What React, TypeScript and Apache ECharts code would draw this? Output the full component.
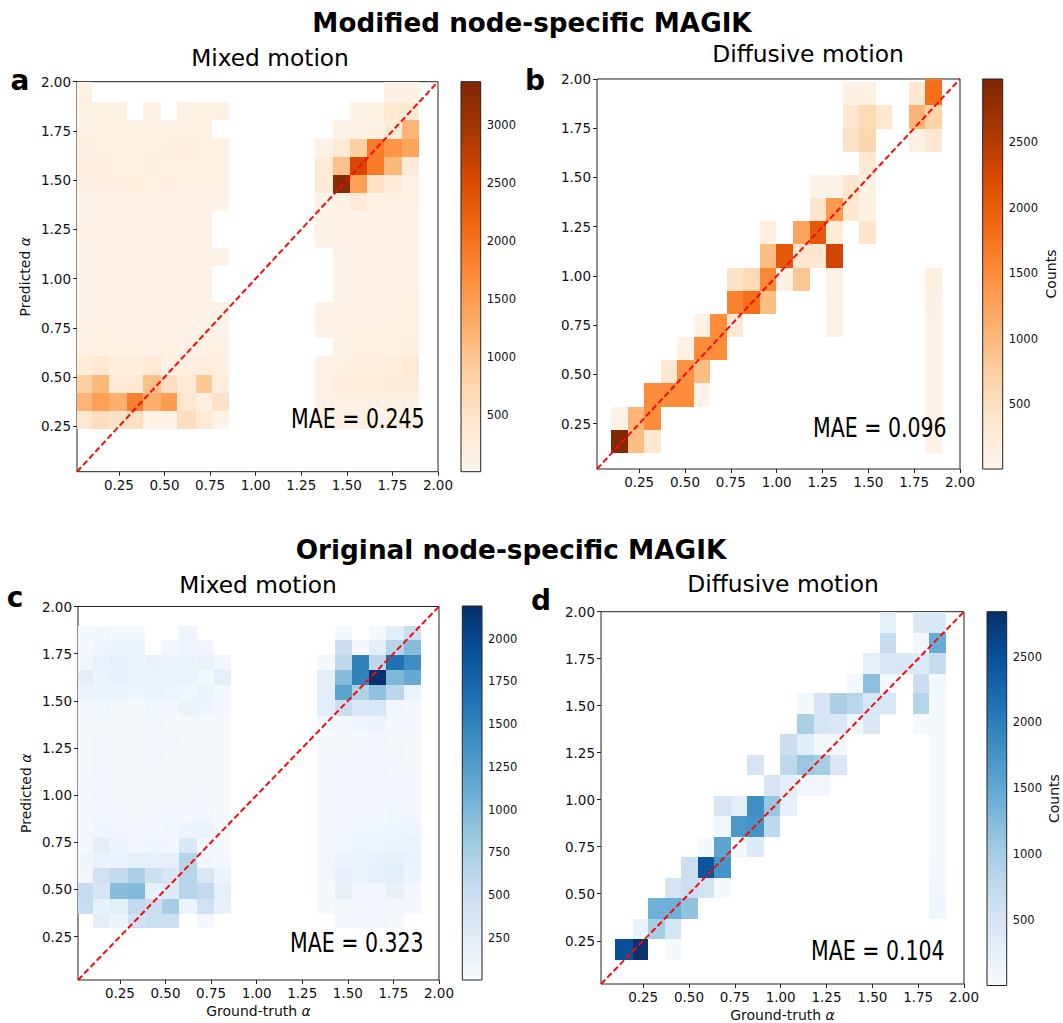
import React, { useEffect, useRef } from "react";
import * as echarts from "echarts";

const FONT = "DejaVu Sans";
const tickValues = [0.25, 0.5, 0.75, 1.0, 1.25, 1.5, 1.75, 2.0];

const oranges = ["#fff5eb", "#fee6ce", "#fdd0a2", "#fdae6b", "#fd8d3c", "#f16913", "#d94801", "#a63603", "#7f2704"];
const blues = ["#f7fbff", "#deebf7", "#c6dbef", "#9ecae1", "#6baed6", "#4292c6", "#2171b5", "#08519c", "#08306b"];

// ---- panel a: Mixed motion (modified) ----
const aXLeft = [0.02, 0.101, 0.194, 0.292, 0.384, 0.478, 0.571, 0.67, 0.762, 0.855];
const aXRight = [1.326, 1.424, 1.517, 1.61, 1.705, 1.801, 1.894];
const aY = [2.0, 1.895, 1.806, 1.709, 1.618, 1.526, 1.435, 1.344, 1.247, 1.156, 1.065, 0.973, 0.882, 0.791, 0.699, 0.608, 0.512, 0.42, 0.329, 0.238];
const aLeft = [
  [130, 0, 0, 0, 0, 0, 0, 0, 0],
  [110, 130, 130, 0, 130, 0, 100, 100, 100],
  [130, 90, 90, 110, 130, 110, 130, 100, 0],
  [170, 100, 110, 130, 90, 140, 170, 110, 110],
  [150, 170, 110, 130, 150, 130, 100, 100, 100],
  [150, 170, 170, 190, 90, 150, 100, 100, 100],
  [70, 70, 70, 70, 70, 70, 70, 70, 70],
  [60, 60, 60, 60, 60, 60, 60, 60, 0],
  [60, 60, 60, 60, 60, 60, 60, 60, 0],
  [60, 60, 60, 60, 60, 60, 60, 60, 60],
  [60, 60, 60, 60, 60, 60, 60, 60, 0],
  [70, 60, 60, 60, 60, 60, 60, 60, 0],
  [70, 70, 70, 70, 70, 70, 80, 80, 70],
  [90, 100, 80, 80, 80, 80, 80, 80, 80],
  [110, 110, 100, 100, 100, 110, 110, 120, 130],
  [250, 370, 200, 200, 330, 130, 170, 200, 140],
  [850, 1150, 300, 350, 1050, 550, 330, 950, 200],
  [1200, 1450, 1250, 1850, 1250, 1500, 400, 170, 500],
  [400, 600, 500, 550, 70, 60, 580, 350, 70],
];
const aRight = [
  [0, 0, 0, 0, 100, 100],
  [0, 0, 100, 100, 350, 350],
  [0, 100, 100, 130, 300, 1200],
  [130, 330, 850, 1900, 1600, 1400],
  [300, 1050, 2550, 1900, 1150, 300],
  [300, 3300, 1450, 500, 300, 100],
  [80, 90, 300, 100, 90, 90],
  [70, 80, 80, 80, 80, 80],
  [70, 80, 80, 80, 80, 80],
  [0, 70, 70, 70, 80, 80],
  [0, 70, 70, 70, 80, 80],
  [0, 70, 70, 80, 90, 90],
  [70, 80, 80, 80, 90, 100],
  [70, 90, 90, 90, 100, 110],
  [0, 90, 100, 110, 130, 140],
  [120, 130, 140, 170, 200, 350],
  [100, 200, 200, 200, 260, 260],
  [100, 130, 130, 130, 130, 130],
  [70, 90, 90, 100, 90, 90],
];

// ---- panel c: Mixed motion (original) ----
const cXLeft = [0.02, 0.1, 0.195, 0.292, 0.387, 0.482, 0.573, 0.67, 0.765, 0.858];
const cXRight = [1.33, 1.428, 1.521, 1.615, 1.71, 1.806, 1.9];
const cY = [1.899, 1.825, 1.741, 1.661, 1.582, 1.503, 1.418, 1.339, 1.259, 1.18, 1.101, 1.021, 0.942, 0.857, 0.772, 0.693, 0.614, 0.534, 0.45, 0.37, 0.296];
const cLeft = [
  [60, 70, 40, 40, 0, 0, 100, 0, 0],
  [60, 90, 110, 110, 0, 60, 100, 70, 0],
  [80, 160, 200, 120, 150, 110, 130, 160, 70],
  [230, 130, 170, 110, 140, 130, 140, 60, 210],
  [130, 110, 130, 100, 130, 100, 70, 120, 60],
  [70, 80, 40, 40, 80, 50, 130, 100, 50],
  [40, 40, 40, 40, 60, 40, 40, 40, 40],
  [40, 50, 40, 40, 60, 50, 40, 40, 30],
  [30, 50, 40, 40, 60, 40, 40, 40, 30],
  [30, 60, 40, 40, 30, 30, 30, 30, 30],
  [50, 60, 40, 40, 30, 30, 30, 30, 30],
  [40, 60, 30, 30, 30, 30, 50, 50, 30],
  [50, 70, 70, 30, 50, 50, 60, 80, 40],
  [60, 90, 70, 70, 50, 80, 110, 130, 40],
  [40, 220, 110, 50, 100, 70, 320, 50, 40],
  [90, 150, 150, 190, 190, 210, 650, 80, 60],
  [70, 450, 580, 720, 470, 340, 650, 340, 120],
  [550, 380, 950, 980, 170, 280, 650, 580, 210],
  [520, 180, 220, 580, 500, 770, 130, 450, 170],
  [0, 220, 120, 450, 470, 470, 0, 60, 0],
];
const cRight = [
  [0, 40, 0, 30, 250, 500],
  [0, 500, 30, 230, 650, 950],
  [40, 600, 1500, 620, 1650, 1400],
  [230, 950, 1500, 2190, 1000, 1150],
  [220, 1200, 700, 900, 620, 130],
  [240, 500, 350, 350, 70, 60],
  [50, 60, 100, 130, 50, 50],
  [40, 40, 50, 50, 40, 40],
  [50, 50, 60, 50, 50, 40],
  [50, 50, 60, 50, 40, 40],
  [50, 50, 60, 60, 50, 50],
  [50, 50, 60, 60, 60, 50],
  [50, 60, 60, 60, 80, 70],
  [50, 70, 80, 80, 90, 100],
  [60, 80, 100, 100, 130, 130],
  [70, 130, 130, 170, 210, 150],
  [70, 170, 130, 210, 230, 130],
  [30, 170, 70, 70, 170, 60],
  [40, 70, 70, 50, 60, 50],
  [0, 50, 50, 50, 40, 0],
];

// ---- panel b: Diffusive motion (modified): [column, row, count] ----
const bX = [0.02, 0.096, 0.189, 0.276, 0.369, 0.458, 0.549, 0.636, 0.729, 0.816, 0.909, 0.996, 1.089, 1.182, 1.271, 1.362, 1.449, 1.54, 1.629, 1.722, 1.809, 1.902, 1.991];
const bY = [2.0, 1.983, 1.867, 1.747, 1.63, 1.512, 1.395, 1.279, 1.162, 1.041, 0.924, 0.807, 0.691, 0.574, 0.458, 0.336, 0.22, 0.103];
const bCells = [
  [20, 0, 1750],
  [15, 1, 90], [16, 1, 90], [19, 1, 330], [20, 1, 1800],
  [15, 2, 350], [16, 2, 600], [17, 2, 350], [19, 2, 1050], [20, 2, 700],
  [15, 3, 450], [16, 3, 650], [19, 3, 100], [20, 3, 350],
  [16, 4, 300],
  [13, 5, 70], [14, 5, 70], [15, 5, 400], [16, 5, 100],
  [13, 6, 400], [14, 6, 1350], [15, 6, 330], [16, 6, 90],
  [10, 7, 120], [12, 7, 1250], [13, 7, 2050], [14, 7, 250], [16, 7, 400],
  [10, 8, 950], [11, 8, 2050], [12, 8, 350], [13, 8, 350], [14, 8, 2300],
  [8, 9, 430], [9, 9, 600], [10, 9, 1550], [11, 9, 90], [12, 9, 850], [14, 9, 100], [20, 9, 150],
  [8, 10, 1600], [9, 10, 1800], [10, 10, 950], [14, 10, 90], [20, 10, 90],
  [6, 11, 90], [7, 11, 1500], [8, 11, 300], [14, 11, 90], [20, 11, 70],
  [5, 12, 110], [6, 12, 1500], [7, 12, 1500], [20, 12, 70],
  [4, 13, 350], [5, 13, 1450], [6, 13, 950], [20, 13, 70],
  [3, 14, 1500], [4, 14, 1500], [5, 14, 1500], [6, 14, 70], [20, 14, 70],
  [1, 15, 70], [2, 15, 1050], [3, 15, 1500], [20, 15, 70],
  [1, 16, 2950], [2, 16, 950], [3, 16, 330], [20, 16, 70],
];

// ---- panel d: Diffusive motion (original): [column, row, count] ----
const dX = [0.02, 0.099, 0.192, 0.279, 0.371, 0.458, 0.551, 0.638, 0.73, 0.818, 0.91, 0.997, 1.09, 1.182, 1.269, 1.362, 1.449, 1.541, 1.628, 1.721, 1.808, 1.9, 1.989];
const dY = [2.0, 1.889, 1.783, 1.671, 1.565, 1.454, 1.348, 1.237, 1.131, 1.019, 0.913, 0.802, 0.696, 0.585, 0.479, 0.367, 0.261, 0.15];
const dCells = [
  [17, 0, 270], [19, 0, 400], [20, 0, 430],
  [17, 1, 700], [19, 1, 60], [20, 1, 1450],
  [16, 2, 270], [17, 2, 450], [18, 2, 450], [19, 2, 350], [20, 2, 700],
  [15, 3, 60], [16, 3, 1200], [17, 3, 40], [19, 3, 650], [20, 3, 60],
  [12, 4, 40], [13, 4, 480], [14, 4, 950], [15, 4, 820], [16, 4, 450], [17, 4, 450], [19, 4, 850], [20, 4, 40],
  [12, 5, 950], [13, 5, 480], [14, 5, 420], [15, 5, 100], [16, 5, 400], [19, 5, 40], [20, 5, 40],
  [11, 6, 650], [12, 6, 330], [13, 6, 50], [14, 6, 70], [20, 6, 40],
  [9, 7, 480], [11, 7, 780], [12, 7, 1100], [13, 7, 1000], [14, 7, 420], [20, 7, 40],
  [10, 8, 460], [11, 8, 280], [12, 8, 90], [13, 8, 90], [20, 8, 40],
  [7, 9, 480], [8, 9, 280], [9, 9, 1800], [10, 9, 1100], [11, 9, 240], [20, 9, 40],
  [7, 10, 100], [8, 10, 1700], [9, 10, 1750], [10, 10, 780], [20, 10, 40],
  [6, 11, 50], [7, 11, 1550], [8, 11, 60], [9, 11, 370], [20, 11, 50],
  [5, 12, 630], [6, 12, 2450], [7, 12, 1750], [20, 12, 60],
  [4, 13, 520], [5, 13, 620], [6, 13, 520], [7, 13, 40], [20, 13, 90],
  [3, 14, 1400], [4, 14, 1400], [5, 14, 1150], [20, 14, 110],
  [2, 15, 180], [3, 15, 1000], [4, 15, 480],
  [1, 16, 2500], [2, 16, 2830], [4, 16, 40],
];

const diagonal = [[0.02, 0.02], [2.0, 2.0]];

const maeLabels = ["MAE = 0.245", "MAE = 0.096", "MAE = 0.323", "MAE = 0.104"];
const barTicksA = [500, 1000, 1500, 2000, 2500, 3000];
const barTicksB = [500, 1000, 1500, 2000, 2500];
const barTicksC = [250, 500, 750, 1000, 1250, 1500, 1750, 2000];
const barTicksD = [500, 1000, 1500, 2000, 2500];

function denseCells(xLeft: number[], xRight: number[], y: number[], left: number[][], right: number[][]) {
  const out: number[][] = [];
  for (let r = 0; r < left.length; r++) {
    left[r].forEach((v, c) => { if (v > 0) out.push([xLeft[c], xLeft[c + 1], y[r + 1], y[r], v]); });
    right[r].forEach((v, c) => { if (v > 0) out.push([xRight[c], xRight[c + 1], y[r + 1], y[r], v]); });
  }
  return out;
}
function sparseCells(x: number[], y: number[], cells: number[][]) {
  return cells.map(([c, r, v]) => [x[c], x[c + 1], y[r + 1], y[r], v]);
}

const panels = [
  { data: denseCells(aXLeft, aXRight, aY, aLeft, aRight), colors: oranges, vmin: 8, vmax: 3374, ticks: barTicksA,
    box: [77, 81.7, 438, 471.7], bar: [461, 81.7, 480.7, 471.7], countsGap: 0, yName: true, xName: false },
  { data: sparseCells(bX, bY, bCells), colors: oranges, vmin: 3, vmax: 2984, ticks: barTicksB,
    box: [597, 79, 960, 469], bar: [982.7, 79, 1002.7, 469], countsGap: 41, yName: false, xName: false },
  { data: denseCells(cXLeft, cXRight, cY, cLeft, cRight), colors: blues, vmin: 4, vmax: 2191, ticks: barTicksC,
    box: [78, 606.5, 439, 980], bar: [462.3, 606, 482, 980], countsGap: 0, yName: true, xName: true },
  { data: sparseCells(dX, dY, dCells), colors: blues, vmin: 1, vmax: 2842, ticks: barTicksD,
    box: [601, 611.7, 964, 985.5], bar: [987, 611.7, 1006.7, 985.5], countsGap: 40, yName: false, xName: true },
];

const AXIS_COLOR = "#222";
const nameStyle = { fontFamily: FONT, fontSize: 14, color: "#111", rich: { i: { fontFamily: FONT, fontSize: 14, fontStyle: "italic", color: "#111" } } };

function buildOption() {
  const grid: any[] = [], xAxis: any[] = [], yAxis: any[] = [], series: any[] = [], visualMap: any[] = [];
  const tickAxis = (extra: any) => ({
    type: "value", min: 0.02, max: 2.0, splitLine: { show: false },
    axisLine: { show: false },
    axisTick: { show: true, length: 4, customValues: tickValues, lineStyle: { color: AXIS_COLOR, width: 1 } },
    axisLabel: { show: true, customValues: tickValues, fontFamily: FONT, fontSize: 13.5, color: "#111", margin: 6, hideOverlap: false,
      formatter: (v: number) => v.toFixed(2) },
    nameTextStyle: nameStyle,
    ...extra,
  });
  panels.forEach((p, i) => {
    const [l, t, r, b] = p.box;
    grid.push({ left: l, top: t, width: r - l, height: b - t, show: true, borderColor: AXIS_COLOR, borderWidth: 1, backgroundColor: "#fff", z: 0 });
    xAxis.push(tickAxis({ gridIndex: 2 * i, position: "bottom",
      ...(p.xName ? { name: "Ground-truth {i|α}", nameLocation: "middle", nameGap: 24 } : {}) }));
    yAxis.push(tickAxis({ gridIndex: 2 * i, position: "left",
      ...(p.yName ? { name: "Predicted {i|α}", nameLocation: "middle", nameGap: 45, nameRotate: 90 } : {}) }));

    const [bl, bt, br, bb] = p.bar;
    grid.push({ left: bl, top: bt, width: br - bl, height: bb - bt, show: true, borderColor: AXIS_COLOR, borderWidth: 1, z: 3 });
    xAxis.push({ type: "value", gridIndex: 2 * i + 1, min: 0, max: 1, show: false });
    yAxis.push({
      type: "value", gridIndex: 2 * i + 1, min: p.vmin, max: p.vmax, position: "right", splitLine: { show: false },
      axisLine: { show: false },
      axisTick: { show: true, length: 4, customValues: p.ticks, lineStyle: { color: AXIS_COLOR, width: 1 } },
      axisLabel: { show: true, customValues: p.ticks, fontFamily: FONT, fontSize: 11.5, color: "#111", margin: 6, hideOverlap: false,
        formatter: (v: number) => String(v) },
      ...(p.countsGap ? { name: "Counts", nameLocation: "middle", nameGap: p.countsGap, nameRotate: 90, nameTextStyle: nameStyle } : {}),
    });

    const seriesIndex = series.length;
    visualMap.push({ show: false, type: "continuous", min: p.vmin, max: p.vmax, dimension: 4, seriesIndex, inRange: { color: p.colors } });
    series.push({
      type: "custom", coordinateSystem: "cartesian2d", xAxisIndex: 2 * i, yAxisIndex: 2 * i, clip: true, silent: true, z: 2,
      encode: { x: [0, 1], y: [2, 3] },
      data: p.data,
      renderItem: (_: any, api: any) => {
        const tl = api.coord([api.value(0), api.value(3)]);
        const br2 = api.coord([api.value(1), api.value(2)]);
        const x0 = Math.round(tl[0]), y0 = Math.round(tl[1]), x1 = Math.round(br2[0]), y1 = Math.round(br2[1]);
        return { type: "rect", shape: { x: x0, y: y0, width: x1 - x0, height: y1 - y0 }, style: { fill: api.visual("color"), stroke: null } };
      },
    });
    series.push({
      type: "line", xAxisIndex: 2 * i, yAxisIndex: 2 * i, data: diagonal, symbol: "none", silent: true, z: 4,
      lineStyle: { color: "#f60a0a", width: 2, type: [6, 3] },
    });
    series.push({
      type: "custom", coordinateSystem: "cartesian2d", xAxisIndex: 2 * i + 1, yAxisIndex: 2 * i + 1, silent: true, z: 2,
      encode: { x: [0, 1], y: [2, 3] },
      data: [[0, 1, p.vmin, p.vmax]],
      renderItem: (_: any, api: any) => {
        const tl = api.coord([api.value(0), api.value(3)]);
        const br2 = api.coord([api.value(1), api.value(2)]);
        const stops = p.colors.map((color, k) => ({ offset: k / (p.colors.length - 1), color }));
        return { type: "rect", shape: { x: tl[0], y: tl[1], width: br2[0] - tl[0], height: br2[1] - tl[1] },
          style: { fill: new echarts.graphic.LinearGradient(0, 1, 0, 0, stops), stroke: null } };
      },
    });
  });

  const text = (s: string, x: number, y: number, size: number, weight: string, extra: any = {}) => ({
    type: "text", x, y, z: 10, silent: true, ...extra,
    style: { text: s, fontFamily: FONT, fontSize: size, fontWeight: weight, fill: "#000", textAlign: extra.align || "center", textVerticalAlign: "middle" },
  });

  const graphic = [
    text("Modified node-specific MAGIK", 532, 23, 26.2, "bold"),
    text("Original node-specific MAGIK", 511, 550, 26.3, "bold"),
    text("Mixed motion", 270, 57, 23.3, "normal"),
    text("Diffusive motion", 808, 54, 23.4, "normal"),
    text("Mixed motion", 258, 584, 23.3, "normal"),
    text("Diffusive motion", 783, 584, 23.4, "normal"),
    text("a", 20, 80, 28, "bold"),
    text("b", 535, 80, 28, "bold"),
    text("c", 15, 597, 28, "bold"),
    text("d", 541, 600, 28, "bold"),
    text(maeLabels[0], 291, 419, 27, "normal", { align: "left", scaleX: 0.76 }),
    text(maeLabels[1], 813, 428, 27, "normal", { align: "left", scaleX: 0.76 }),
    text(maeLabels[2], 290, 943, 27, "normal", { align: "left", scaleX: 0.76 }),
    text(maeLabels[3], 811, 951, 27, "normal", { align: "left", scaleX: 0.76 }),
  ];

  return { animation: false, backgroundColor: "#fff", grid, xAxis, yAxis, series, visualMap, graphic };
}

export default function App() {
  const ref = useRef<HTMLDivElement>(null);
  useEffect(() => {
    const chart = echarts.init(ref.current!, undefined, { renderer: "svg" });
    chart.setOption(buildOption() as any);
    return () => chart.dispose();
  }, []);
  return <div ref={ref} style={{ position: "absolute", left: 0, top: 0, width: 1063, height: 1023 }} />;
}
